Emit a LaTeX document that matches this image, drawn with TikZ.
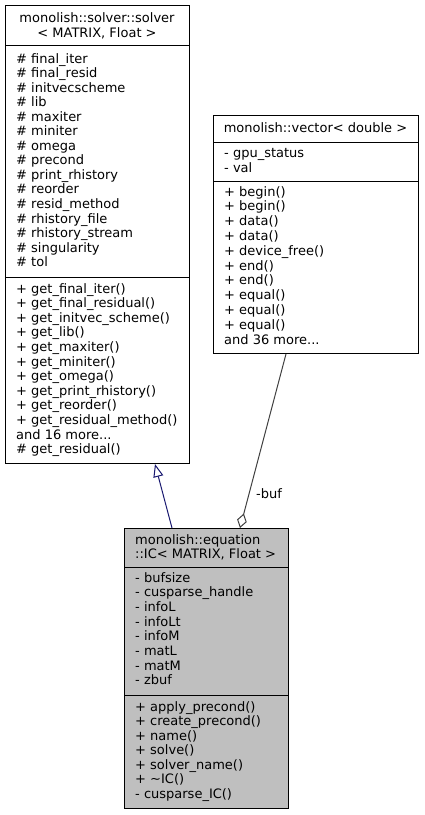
\documentclass[tikz,border=0pt]{standalone}
\usepackage{fontspec}
\setmainfont{DejaVu Sans}
\usetikzlibrary{arrows.meta}
\definecolor{icgray}{HTML}{BFBFBF}
\definecolor{inhblue}{HTML}{191970}
\definecolor{aggray}{HTML}{404040}
\newcommand\tdots{...}
\begin{document}
\begin{tikzpicture}[x=1pt,y=-1pt,
  box/.style={draw=black, line width=1pt, inner sep=0, anchor=north west},
  txt/.style={anchor=base west, inner sep=0, font=\fontsize{13}{15}\selectfont},
  ctxt/.style={anchor=base, inner sep=0, font=\fontsize{13}{15}\selectfont},
  sep/.style={draw=black, line width=1pt},
  inherit/.style={draw=inhblue, line width=1pt, -{Triangle[open, length=13pt, width=10pt, line width=1pt]}},
  aggr/.style={draw=aggray, line width=1pt, -{Diamond[open, length=15pt, width=10pt, line width=1pt]}}]
\useasboundingbox (0,0) rectangle (424,815);

% solver box
\node[box, minimum width=184pt, minimum height=458pt] (solver) at (5,5) {};
\draw[sep] (5,45) -- (189,45);
\draw[sep] (5,277) -- (189,277);
\node[ctxt] (sh1) at (97,22) {monolish::solver::solver};
\node[ctxt] (sh2) at (97,37) {< MATRIX, Float >};
\foreach \t [count=\i] in {\# final\_iter, \# final\_resid, \# initvecscheme, \# lib, \# maxiter, \# miniter, \# omega, \# precond, \# print\_rhistory, \# reorder, \# resid\_method, \# rhistory\_file, \# rhistory\_stream, \# singularity, \# tol}
  \node[txt] (sa\i) at (16,{63+14.55*(\i-1)}) {\t};
\foreach \t [count=\i] in {+ get\_final\_iter(), + get\_final\_residual(), + get\_initvec\_scheme(), + get\_lib(), + get\_maxiter(), + get\_miniter(), + get\_omega(), + get\_print\_rhistory(), + get\_reorder(), + get\_residual\_method(), and 16 more\tdots, \# get\_residual()}
  \node[txt] (sm\i) at (16,{293+14.6*(\i-1)}) {\t};

% vector box
\node[box, minimum width=205pt, minimum height=238pt, fill=white] (vector) at (213,115) {};
\draw[sep] (213,142) -- (418,142);
\draw[sep] (213,181) -- (418,181);
\node[ctxt] (vh1) at (315.5,132) {monolish::vector< double >};
\node[txt] (va1) at (224,157) {- gpu\_status};
\node[txt] (va2) at (224,172) {- val};
\foreach \t [count=\i] in {+ begin(), + begin(), + data(), + data(), + device\_free(), + end(), + end(), + equal(), + equal(), + equal(), and 36 more\tdots}
  \node[txt] (vm\i) at (224,{196+14.8*(\i-1)}) {\t};

% IC box
\node[box, minimum width=164pt, minimum height=280pt, fill=icgray] (ic) at (124,528) {};
\draw[sep] (124,567) -- (288,567);
\draw[sep] (124,695) -- (288,695);
\node[txt] (ih1) at (135,544) {monolish::equation};
\node[txt] (ih2) at (135,558) {::IC< MATRIX, Float >};
\foreach \t [count=\i] in {- bufsize, - cusparse\_handle, - infoL, - infoLt, - infoM, - matL, - matM, - zbuf}
  \node[txt] (ia\i) at (135,{582+14.7*(\i-1)}) {\t};
\foreach \t [count=\i] in {+ apply\_precond(), + create\_precond(), + name(), + solve(), + solver\_name(), + \textasciitilde IC(), - cusparse\_IC()}
  \node[txt] (im\i) at (135,{711+14.5*(\i-1)}) {\t};

% connectors
\draw[inherit] ([xshift=48pt]ic.north west) -- ([xshift=150pt]solver.south west);
\draw[aggr] ([xshift=73pt]vector.south west) -- ([xshift=116pt]ic.north west);
\node[ctxt] (buf) at (269,498) {-buf};
\end{tikzpicture}
\end{document}
